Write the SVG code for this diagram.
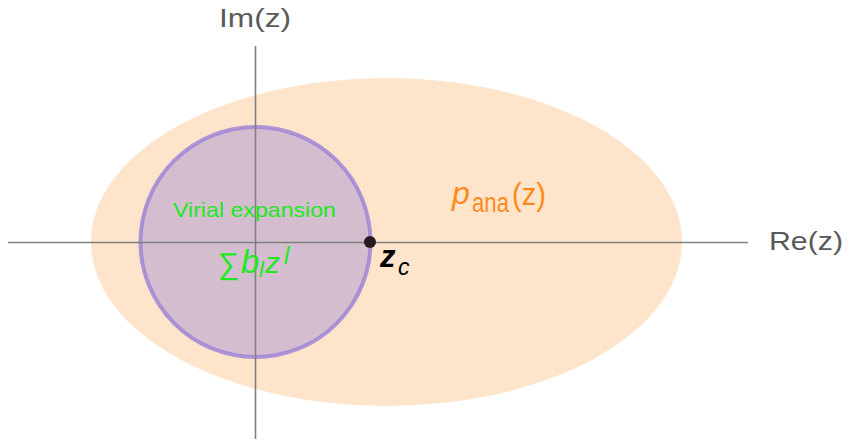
<svg xmlns="http://www.w3.org/2000/svg" width="849" height="445" viewBox="0 0 849 445">
<style>
.ax{stroke:#808080;stroke-width:1.6;fill:none}
text{font-family:"Liberation Sans",Arial,sans-serif;}
.g{fill:#1EE81E}
.o{fill:#FF8A1C}
.it{font-style:italic}
</style>
<rect width="849" height="445" fill="#fff"/>
<g id="analytic-region">
<ellipse cx="386.5" cy="242" rx="295.5" ry="164" fill="#FFE4CC"/>
</g>
<g id="virial-disk">
<circle cx="255.5" cy="242" r="115" fill="#D4BDCF" stroke="#9E86D6" stroke-width="4" stroke-opacity="0.85"/>
</g>
<g id="axes">
<line class="ax" x1="8" y1="242.5" x2="748" y2="242.5"/>
<line class="ax" x1="255.5" y1="46" x2="255.5" y2="439"/>
</g>
<g id="labels">
<text x="219" y="27" font-size="25" fill="#595959" textLength="72" lengthAdjust="spacingAndGlyphs">Im(z)</text>
<text x="769" y="250" font-size="25" fill="#595959" textLength="74" lengthAdjust="spacingAndGlyphs">Re(z)</text>
<text class="g" x="173" y="217" font-size="21" textLength="163" lengthAdjust="spacingAndGlyphs">Virial expansion</text>
<text class="g" x="218" y="274" font-size="30">∑</text>
<text class="g" font-size="33"><tspan class="it" x="241" y="273">b</tspan><tspan class="it" x="259" y="277" font-size="22">l</tspan><tspan class="it" x="265" y="273" font-size="30">z</tspan><tspan class="it" x="284" y="264" font-size="24">l</tspan></text>
<text class="o it" x="452" y="204" font-size="32">p</text>
<text class="o" x="472" y="212" font-size="27" textLength="37" lengthAdjust="spacingAndGlyphs">ana</text>
<text class="o" x="512" y="205" font-size="31" textLength="34" lengthAdjust="spacingAndGlyphs">(z)</text>
<text x="380" y="267" font-size="31" font-style="italic" font-weight="bold" fill="#000">z</text>
<text x="398" y="275" font-size="23" font-style="italic" fill="#000">c</text>
</g>
<g id="critical-point">
<circle cx="370" cy="242" r="6" fill="#2A1A1F"/>
</g>
</svg>
